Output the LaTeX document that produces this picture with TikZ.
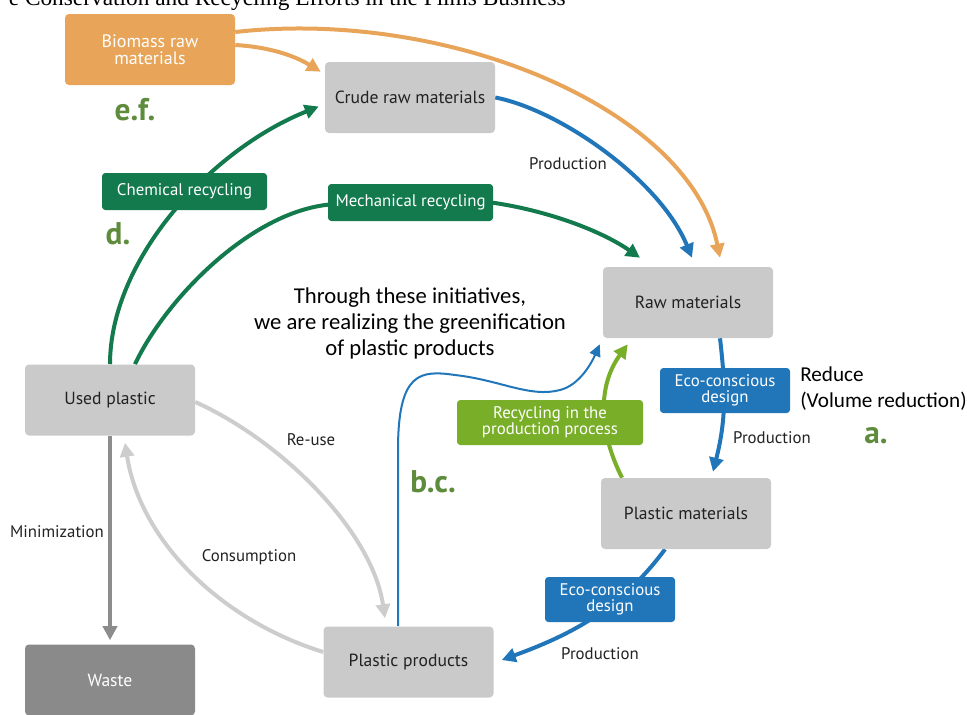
\documentclass[tikz,border=0pt]{standalone}
\usepackage{fontspec}
\newfontfamily\boxfont{PT Sans}
\newfontfamily\bodyfont{Carlito}
\newfontfamily\titlefont{Liberation Serif}
\usetikzlibrary{arrows.meta,calc,backgrounds}

\definecolor{orangeC}{HTML}{E8A55A}
\definecolor{boxgray}{HTML}{C9CAC9}
\definecolor{darkgreen}{HTML}{127A4C}
\definecolor{blueC}{HTML}{2176BA}
\definecolor{lightgreen}{HTML}{78AE28}
\definecolor{tagg}{HTML}{5E8C3C}
\definecolor{wastegray}{HTML}{8A8A8A}
\definecolor{paleline}{HTML}{CDCDCD}
\definecolor{darkline}{HTML}{8C8C8C}
\definecolor{textgray}{HTML}{222222}

\tikzset{
  stage/.style={rectangle, rounded corners=3pt, fill=boxgray, minimum width=127.5pt,
    minimum height=53.25pt, inner sep=0pt, text=textgray, font=\boxfont\fontsize{13.2}{15}\selectfont},
  tagbox/.style={rectangle, rounded corners=2.5pt, inner sep=0pt, text=white, align=center,
    font=\boxfont\fontsize{12.6}{12}\selectfont},
  flow/.style={line width=3pt, -{Triangle[length=10.5pt,width=10.5pt]}},
  flowthin/.style={line width=1.5pt, -{Triangle[length=9pt,width=8.5pt]}},
  plain/.style={line width=3pt},
  steplabel/.style={text=textgray, font=\boxfont\fontsize{12.6}{14}\selectfont, inner sep=0pt},
  tag/.style={text=tagg, font=\boxfont\bfseries\fontsize{23.5}{24}\selectfont, inner sep=0pt},
}

\begin{document}
\begin{tikzpicture}[x=0.75pt,y=-0.75pt]
\useasboundingbox (0,0) rectangle (967,714);
\clip (0,0) rectangle (967,714);

% title line (partly outside the page)
\node[anchor=base east, inner sep=0pt, font=\titlefont\fontsize{17.5}{18}\selectfont] (title) at (566,5)
  {e Conservation and Recycling Efforts in the Films Business};

% main stages
\node[stage, fill=orangeC, text=white, align=center, font=\boxfont\fontsize{13.5}{12.5}\selectfont] (bio) at (150,49.5) {Biomass raw\\materials};
\node[stage] (crude) at (410,97.5) {Crude raw materials};
\node[stage] (raw) at (688,302.5) {Raw materials};
\node[stage] (pmat) at (686,513.5) {Plastic materials};
\node[stage] (pprod) at (408.5,662) {Plastic products};
\node[stage] (used) at (110,400) {Used plastic};
\node[stage, fill=wastegray, text=white] (waste) at (110,680) {Waste};

% labelled boxes sitting on the connectors
\node[tagbox, fill=darkgreen, minimum width=123.75pt, minimum height=27.75pt] (chem) at (184.5,191.5) {Chemical recycling};
\node[tagbox, fill=darkgreen, minimum width=123.75pt, minimum height=27.75pt] (mech) at (410.5,202.5) {Mechanical recycling};
\node[tagbox, fill=blueC, minimum width=97.5pt, minimum height=33.75pt] (eco1) at (725,390.5) {Eco-conscious\\design};
\node[tagbox, fill=blueC, minimum width=97.5pt, minimum height=33.75pt] (eco2) at (610,599.5) {Eco-conscious\\design};
\node[tagbox, fill=lightgreen, minimum width=139.5pt, minimum height=33.75pt] (recyc) at (550,422.5) {Recycling in the\\production process};

% free labels
\node[steplabel] (lprod1) at (568,164) {Production};
\node[steplabel] (lprod2) at (772,438) {Production};
\node[steplabel] (lprod3) at (600,654) {Production};
\node[steplabel] (lreuse) at (311,440) {Re-use};
\node[steplabel] (lmin) at (57,532) {Minimization};
\node[steplabel] (lcons) at (249,557) {Consumption};
\node[anchor=west, align=left, inner sep=0pt, font=\bodyfont\fontsize{15.9}{19.5}\selectfont] (reduce) at (800,389) {Reduce\\(Volume reduction)};
\node[align=center, inner sep=0pt, font=\bodyfont\fontsize{17}{19.5}\selectfont] (motto) at (410,323)
  {Through these initiatives,\\we are realizing the greenification\\of plastic products};

\node[tag] (ta) at (876,436) {a.};
\node[tag] (tbc) at (433,482) {b.c.};
\node[tag] (td) at (118,234) {d.};
\node[tag] (tef) at (135,110) {e.f.};

% connectors, behind the boxes
\begin{scope}[on background layer]
  % biomass feeds
  \draw[flow, orangeC] ($(bio.east)+(0,-4.5)$) .. controls (270,47) and (295,56) .. ($(crude.north west)+(-4,10)$);
  \draw[flow, orangeC] ($(bio.east)+(0,-17.5)$) .. controls (450,8) and (690,110) .. ($(raw.north)+(32,-9)$);
  % crude to raw
  \draw[flow, blueC] (crude.east) .. controls (560,110) and (660,180) .. ($(raw.north)+(4,-9)$);
  % mechanical recycling
  \draw[plain, darkgreen] ($(used.north)+(25,0)$) .. controls (165,300) and (250,212) .. ($(mech.west)+(2,2)$);
  \draw[flow, darkgreen] ($(mech.east)+(-2,0)$) .. controls (545,210) and (600,230) .. ($(raw.north)+(-48,-9)$);
  % chemical recycling
  \draw[flow, darkgreen] (used.north) .. controls (110,260) and (210,150) .. ($(crude.west)+(-6,9)$);
  % plastic products back to raw materials
  \draw[flowthin, blueC] ($(pprod.north)+(-10.5,0)$) -- (398,450)
     .. controls (398,372) and (420,370) .. (455,375)
     .. controls (500,380) and (530,398) .. (560,390)
     .. controls (580,385) and (592,362) .. ($(raw.south west)+(-3,6)$);
  % recycling in the production process
  \draw[flow, lightgreen] ($(pmat.north)+(-64,0)$) .. controls (598,430) and (598,385) .. ($(raw.south west)+(25,6)$);
  % raw -> plastic materials
  \draw[flow, blueC] ($(raw.south)+(32,0)$) .. controls (726,390) and (726,420) .. ($(pmat.north)+(27,-6)$);
  % plastic materials -> plastic products
  \draw[flow, blueC] ($(pmat.south)+(-21,0)$) .. controls (620,610) and (570,635) .. ($(pprod.east)+(8,-2)$);
  % re-use and consumption
  \draw[flow, paleline] ($(used.east)+(0,2)$) .. controls (280,440) and (372,530) .. ($(pprod.north)+(-23.5,-8)$);
  \draw[flow, paleline] ($(pprod.west)+(0,-10)$) .. controls (220,620) and (140,540) .. ($(used.south)+(15,7)$);
  % minimization
  \draw[flow, darkline] (used.south) -- ($(waste.north)+(0,-4)$);
\end{scope}
\end{tikzpicture}
\end{document}
